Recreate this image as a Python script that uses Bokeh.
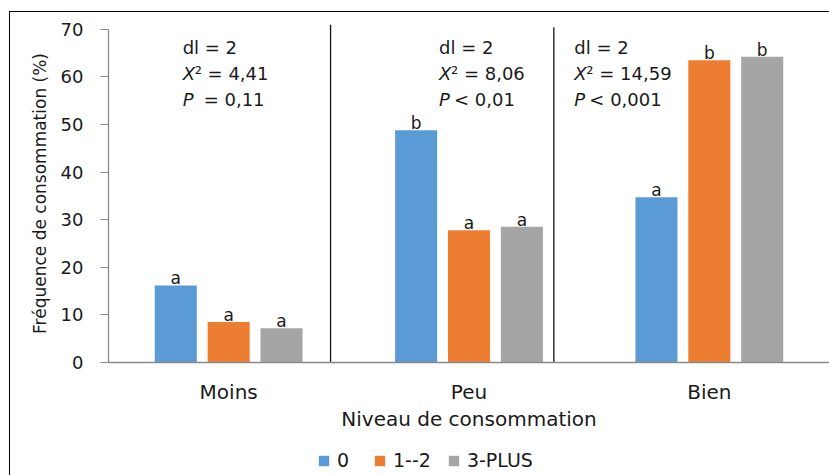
from bokeh.plotting import figure
from bokeh.layouts import column
from bokeh.models import (ColumnDataSource, FactorRange, Range1d, FixedTicker,
                          Legend, LegendItem)
from bokeh.transform import dodge
from bokeh.core.properties import value
from bokeh.embed import file_html
from bokeh.resources import INLINE

# --- data -------------------------------------------------------------
categories = ["Moins", "Peu", "Bien"]
groups = ["0", "1--2", "3-PLUS"]
freq_0 = [16.2, 48.8, 34.7]
freq_1_2 = [8.5, 27.8, 63.5]
freq_3_plus = [7.2, 28.5, 64.2]
letters_0 = ["a", "b", "a"]
letters_1_2 = ["a", "a", "b"]
letters_3_plus = ["a", "a", "b"]
dl_values = ["2", "2", "2"]
chi2_values = ["4,41", "8,06", "14,59"]
p_values = ["= 0,11", "< 0,01", "< 0,001"]
y_ticks = [0, 10, 20, 30, 40, 50, 60, 70]

# --- style ------------------------------------------------------------
FONT = "DejaVu Sans"
TEXT = "#1a1a1a"
AXIS = "#8a8a8a"
colors = ["#5B9BD5", "#ED7D31", "#A5A5A5"]
bar_offsets = [-0.22, 0.0, 0.22]
bar_width = 0.175
stat_shift = [-46, -30, -135]          # px, left edge of the stats block
p_gap = [21, 15, 15]                    # px, gap after the italic P
divider_shift = [0.424, 0.353]          # after "Moins" and after "Peu"
divider_top = [71.0, 70.4]

# thin black chart border (left and top edges), drawn behind the canvases
border_css = {
    "background-color": "white",
    "background-image": "linear-gradient(#000, #000), linear-gradient(#000, #000)",
    "background-size": "1px 100%, 100% 1px",
    "background-position": "9px 11px, 9px 11px",
    "background-repeat": "no-repeat",
}

p = figure(width=829, height=440,
           x_range=FactorRange(*categories), y_range=Range1d(0, 71),
           output_backend="svg", toolbar_location=None,
           min_border_left=108, min_border_right=0,
           min_border_top=24, min_border_bottom=78)
p.background_fill_color = "white"
p.border_fill_color = None
p.outline_line_color = None
p.xgrid.grid_line_color = None
p.ygrid.grid_line_color = None

src = ColumnDataSource(dict(cat=categories,
                            v0=freq_0, v1=freq_1_2, v2=freq_3_plus,
                            l0=letters_0, l1=letters_1_2, l2=letters_3_plus))

for i, (vk, lk) in enumerate([("v0", "l0"), ("v1", "l1"), ("v2", "l2")]):
    xpos = dodge("cat", bar_offsets[i], range=p.x_range)
    p.vbar(x=xpos, top=vk, width=bar_width, source=src,
           fill_color=colors[i], line_color=None)
    p.text(x=xpos, y=vk, text=lk, source=src, text_align="center",
           text_baseline="alphabetic", y_offset=-7,
           text_font=value(FONT), text_font_size="17px", text_color=TEXT)

# vertical separators between the consumption levels
for cat, shift, top in zip(categories[:2], divider_shift, divider_top):
    dsrc = ColumnDataSource(dict(cat=[cat], y0=[0], y1=[top]))
    xd = dodge("cat", shift, range=p.x_range)
    p.segment(x0=xd, x1=xd, y0="y0", y1="y1", source=dsrc,
              line_color="#111111", line_width=1.3)

# chi-square statistics per level
stats = ColumnDataSource(dict(
    cat=categories,
    dl=["dl = " + v for v in dl_values],
    chi=["\u00b2 = " + v for v in chi2_values],
    pv=p_values,
    x0=stat_shift,
    x1=[s + 12 for s in stat_shift],
    x2=[s + g for s, g in zip(stat_shift, p_gap)],
))
common = dict(source=stats, text_align="left", text_baseline="middle",
              text_font=value(FONT), text_font_size="18px", text_color=TEXT)
p.text(x="cat", y=70, text="dl", x_offset="x0", y_offset=18, **common)
p.text(x="cat", y=70, text=value("X"), x_offset="x0", y_offset=44,
       text_font_style="italic", **common)
p.text(x="cat", y=70, text="chi", x_offset="x1", y_offset=44, **common)
p.text(x="cat", y=70, text=value("P"), x_offset="x0", y_offset=70,
       text_font_style="italic", **common)
p.text(x="cat", y=70, text="pv", x_offset="x2", y_offset=70, **common)

# axes
yax = p.yaxis[0]
yax.ticker = FixedTicker(ticks=y_ticks)
yax.bounds = (0, 70)
yax.axis_line_color = AXIS
yax.axis_line_width = 1.3
yax.major_tick_line_color = AXIS
yax.major_tick_out = 8
yax.major_tick_in = 0
yax.minor_tick_line_color = None
yax.major_label_standoff = 17
yax.major_label_text_font = FONT
yax.major_label_text_font_size = "18px"
yax.major_label_text_color = TEXT
yax.axis_label = "Fréquence de consommation (%)"
yax.axis_label_text_font = FONT
yax.axis_label_text_font_size = "17px"
yax.axis_label_text_font_style = "normal"
yax.axis_label_text_color = TEXT
yax.axis_label_standoff = 8

xax = p.xaxis[0]
xax.axis_line_color = AXIS
xax.axis_line_width = 1.5
xax.major_tick_line_color = None
xax.major_tick_out = 0
xax.major_tick_in = 0
xax.major_label_standoff = 17
xax.major_label_text_font = FONT
xax.major_label_text_font_size = "20px"
xax.major_label_text_color = TEXT
xax.axis_label = "Niveau de consommation"
xax.axis_label_text_font = FONT
xax.axis_label_text_font_size = "20px"
xax.axis_label_text_font_style = "normal"
xax.axis_label_text_color = TEXT
xax.axis_label_standoff = 0

# legend strip under the chart (its frame lines up with the chart frame);
# the swatch renderers are zero-height bars, so only their legend entries show
leg = figure(width=829, height=35, x_range=(0, 1), y_range=(0, 1),
             output_backend="svg", toolbar_location=None,
             x_axis_location=None, y_axis_location=None,
             min_border=0)
leg.background_fill_color = None
leg.border_fill_color = None
leg.outline_line_color = None
leg.xgrid.grid_line_color = None
leg.ygrid.grid_line_color = None
swatches = [leg.vbar(x=[0.5], bottom=[0], top=[0], width=0.0,
                     fill_color=c, line_color=None)
            for c in colors]
legend = Legend(items=[LegendItem(label=g, renderers=[r]) for g, r in zip(groups, swatches)],
                orientation="horizontal", location=(209, 4),
                glyph_width=13, glyph_height=13, label_standoff=7, spacing=16,
                padding=0, margin=0, border_line_color=None,
                background_fill_alpha=0,
                label_text_font=FONT, label_text_font_size="19px",
                label_text_color=TEXT)
leg.add_layout(legend)

page = column(p, leg, spacing=0, styles=border_css)
open("out.html", "w").write(file_html(page, INLINE))
